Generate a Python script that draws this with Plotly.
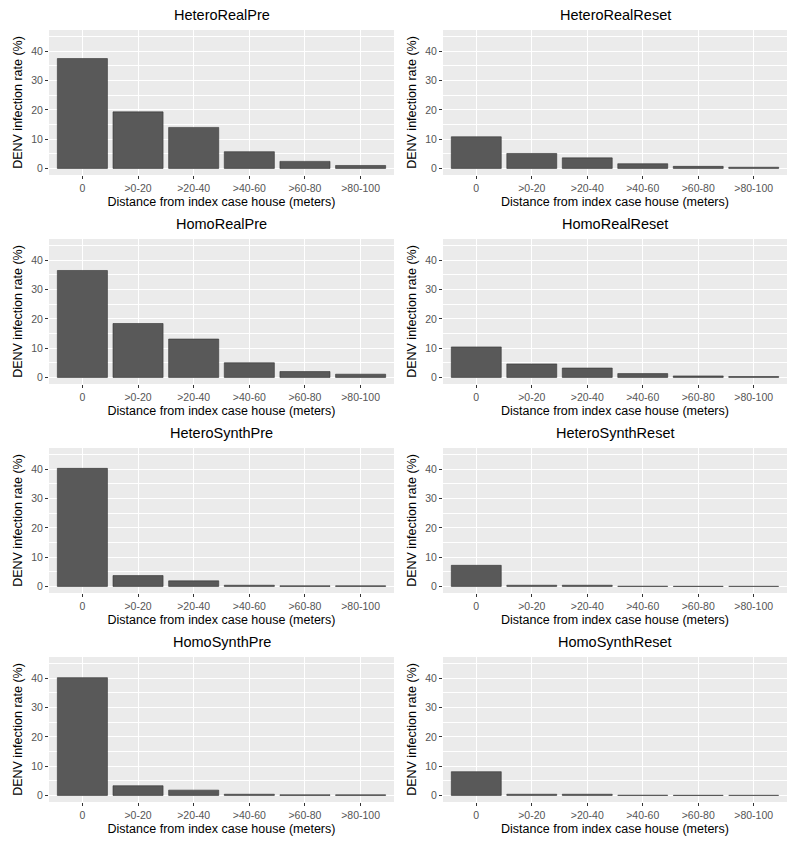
import plotly.graph_objects as go

categories = ["0", ">0-20", ">20-40", ">40-60", ">60-80", ">80-100"]

panel_titles = ["HeteroRealPre", "HeteroRealReset",
                "HomoRealPre", "HomoRealReset",
                "HeteroSynthPre", "HeteroSynthReset",
                "HomoSynthPre", "HomoSynthReset"]

hetero_real_pre = [37.5, 19.3, 14.0, 5.7, 2.4, 1.0]
hetero_real_reset = [10.8, 5.1, 3.6, 1.6, 0.7, 0.4]
homo_real_pre = [36.5, 18.4, 13.1, 5.0, 2.0, 1.1]
homo_real_reset = [10.4, 4.6, 3.2, 1.3, 0.5, 0.3]
hetero_synth_pre = [40.3, 3.7, 1.9, 0.4, 0.2, 0.2]
hetero_synth_reset = [7.2, 0.4, 0.4, 0.05, 0.02, 0.01]
homo_synth_pre = [40.2, 3.3, 1.8, 0.4, 0.2, 0.2]
homo_synth_reset = [8.1, 0.4, 0.4, 0.05, 0.02, 0.01]

series = [hetero_real_pre, hetero_real_reset, homo_real_pre, homo_real_reset,
          hetero_synth_pre, hetero_synth_reset, homo_synth_pre, homo_synth_reset]

x_label = "Distance from index case house (meters)"
y_label = "DENV infection rate (%)"
y_ticks = [0, 10, 20, 30, 40]

W, H = 800, 846
col_x = [(49, 394), (443, 787)]
row_top0, row_bot0, row_step = 30, 175, 209

FONT = "Liberation Sans, Arial, sans-serif"
fig = go.Figure()
annotations = []

for i, (title, vals) in enumerate(zip(panel_titles, series)):
    r, c = divmod(i, 2)
    ax = "" if i == 0 else str(i + 1)
    x0, x1 = col_x[c]
    top = row_top0 + r * row_step
    bot = row_bot0 + r * row_step
    fig.add_trace(go.Bar(
        x=categories, y=vals, xaxis="x" + ax, yaxis="y" + ax,
        marker=dict(color="#595959", line=dict(color="#333333", width=0.6)),
        width=0.9, showlegend=False))
    fig.layout["xaxis" + ax] = dict(
        domain=[x0 / W, x1 / W], anchor="y" + ax, type="category",
        range=[-0.6, 5.6], showgrid=True, gridcolor="white", gridwidth=1.1,
        ticks="outside", ticklen=3, tickcolor="#333333", tickwidth=1,
        tickfont=dict(family=FONT, size=10.5, color="#555555"),
        title=dict(text=x_label, font=dict(family=FONT, size=12.5, color="black"), standoff=4),
        zeroline=False, showline=False, fixedrange=True, automargin=False)
    fig.layout["yaxis" + ax] = dict(
        domain=[1 - bot / H, 1 - top / H], anchor="x" + ax,
        range=[-2.25, 47.25], tickvals=y_ticks,
        showgrid=True, gridcolor="white", gridwidth=1.1,
        minor=dict(tickvals=[5, 15, 25, 35, 45], showgrid=True, gridcolor="white", gridwidth=0.5, ticks=""),
        ticks="outside", ticklen=3, tickcolor="#333333", tickwidth=1,
        tickfont=dict(family=FONT, size=10.5, color="#555555"),
        title=dict(text=y_label, font=dict(family=FONT, size=12.5, color="black"), standoff=5),
        zeroline=False, showline=False, fixedrange=True, automargin=False)
    annotations.append(dict(
        text=title, x=(x0 + x1) / 2 / W, y=1 - (top - 5) / H,
        xref="paper", yref="paper", xanchor="center", yanchor="bottom",
        showarrow=False, font=dict(family=FONT, size=14.5, color="black")))
    fig.add_shape(type="rect", xref="paper", yref="paper", layer="below",
                  x0=x0 / W, x1=x1 / W, y0=1 - bot / H, y1=1 - top / H,
                  fillcolor="#EBEBEB", line=dict(width=0))

fig.update_layout(
    width=W, height=H, margin=dict(l=0, r=0, t=0, b=0, autoexpand=False),
    paper_bgcolor="white", plot_bgcolor="rgba(0,0,0,0)",
    annotations=annotations, bargap=0.1,
    font=dict(family=FONT))

fig.write_html("out.html", config={"displayModeBar": False},
               post_script="document.body.style.margin='0';")
